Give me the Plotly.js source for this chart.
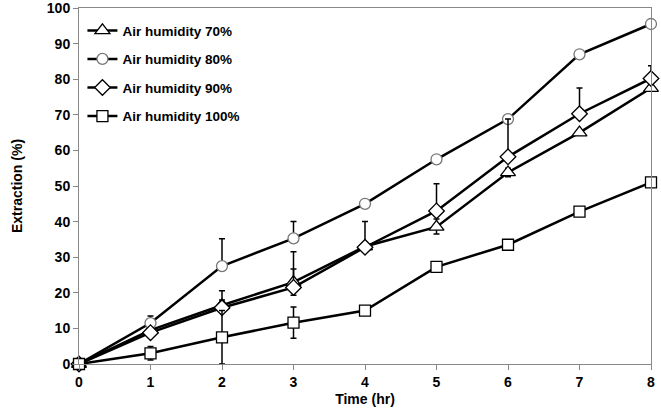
<!DOCTYPE html>
<html>
<head>
<meta charset="utf-8">
<script src="https://cdn.plot.ly/plotly-3.0.1.min.js"></script>
<style>html,body{margin:0;padding:0;background:#fff;}#chart{width:661px;height:412px;}</style>
</head>
<body>
<div id="chart"></div>
<script>
const time = [0, 1, 2, 3, 4, 5, 6, 7, 8];
const seriesNames = ["Air humidity 70%", "Air humidity 80%", "Air humidity 90%", "Air humidity 100%"];
const hum70 = [0, 9.5, 16.5, 23.0, 33.0, 38.5, 53.8, 65.0, 77.5];
const hum80 = [0, 11.5, 27.5, 35.3, 45.0, 57.5, 68.8, 87.0, 95.5];
const hum90 = [0, 8.8, 15.8, 21.5, 32.8, 43.0, 58.2, 70.3, 80.2];
const hum100 = [0, 3.0, 7.5, 11.6, 15.0, 27.3, 33.5, 42.8, 51.0];
const err70plus = [0, 1.0, 1.5, 3.7, 0.5, 2.2, 1.2, 0.5, 0.5];
const err70minus = [0, 1.0, 1.5, 3.7, 0.5, 2.0, 1.2, 0.5, 0.5];
const err80plus = [0, 2.0, 7.7, 4.7, 0, 0, 0, 0, 0];
const err90plus = [0, 1.0, 4.8, 10.0, 7.2, 7.6, 10.6, 7.2, 3.6];
const err100 = [0, 1.9, 7.5, 4.4, 0.5, 0.5, 0.5, 0.5, 0.5];

const lineStyle = {color: '#000', width: 2.5};
const errStyle = {color: '#000', thickness: 1.5, width: 3};

const traces = [
  {x: time, y: hum70, name: seriesNames[0], mode: 'lines+markers', line: lineStyle, cliponaxis: false,
   marker: {symbol: 'triangle-up', size: 13, color: '#fff', line: {color: '#000', width: 1.3}},
   error_y: Object.assign({type: 'data', symmetric: false, array: err70plus, arrayminus: err70minus}, errStyle),
   legendgroup: 'a'},
  {x: time, y: hum80, name: seriesNames[1], mode: 'lines+markers', line: lineStyle, cliponaxis: false,
   marker: {symbol: 'circle', size: 11, color: '#fff', line: {color: '#777', width: 1.3}},
   error_y: Object.assign({type: 'data', symmetric: false, array: err80plus, arrayminus: time.map(() => 0)}, errStyle),
   legendgroup: 'b'},
  {x: time, y: hum90, name: seriesNames[2], mode: 'lines+markers', line: lineStyle, cliponaxis: false,
   marker: {symbol: 'diamond', size: 12, color: '#fff', line: {color: '#000', width: 1.3}},
   error_y: Object.assign({type: 'data', symmetric: false, array: err90plus, arrayminus: time.map(() => 0)}, errStyle),
   legendgroup: 'c'},
  {x: time, y: hum100, name: seriesNames[3], mode: 'lines+markers', line: lineStyle, cliponaxis: false,
   marker: {symbol: 'square', size: 11, color: '#fff', line: {color: '#000', width: 1.3}},
   error_y: Object.assign({type: 'data', array: err100}, errStyle),
   legendgroup: 'd'}
];

const fontFam = 'Liberation Sans, Arial, sans-serif';
const tickFont = {family: fontFam, size: 14, color: '#000', weight: 'bold'};
const layout = {
  width: 661, height: 412,
  margin: {l: 79, r: 10, t: 8, b: 48},
  paper_bgcolor: '#fff', plot_bgcolor: '#fff',
  font: {family: fontFam, size: 13, color: '#000', weight: 'bold'},
  showlegend: true,
  legend: {x: 0.006, y: 0.98, xanchor: 'left', yanchor: 'top', bgcolor: 'rgba(0,0,0,0)',
           font: {family: fontFam, size: 13.5, color: '#000', weight: 'bold'},
           traceorder: 'grouped', tracegroupgap: 8},
  xaxis: {range: [0, 8], tickvals: time, ticks: 'outside', ticklen: 5, tickcolor: '#888',
          showline: true, linecolor: '#888', linewidth: 1, mirror: true, showgrid: false, zeroline: false,
          tickfont: tickFont, ticklabeloverflow: 'allow',
          title: {text: 'Time (hr)', font: {family: fontFam, size: 14, color: '#000', weight: 'bold'}, standoff: 5}},
  yaxis: {range: [0, 100], dtick: 10, ticks: 'outside', ticklen: 5, tickcolor: '#888',
          showline: true, linecolor: '#888', linewidth: 1, mirror: true, showgrid: false, zeroline: false,
          tickfont: tickFont, ticklabeloverflow: 'allow',
          title: {text: 'Extraction (%)', font: {family: fontFam, size: 14, color: '#000', weight: 'bold'}, standoff: 20}}
};

Plotly.newPlot('chart', traces, layout, {displayModeBar: false, staticPlot: true});
</script>
</body>
</html>
